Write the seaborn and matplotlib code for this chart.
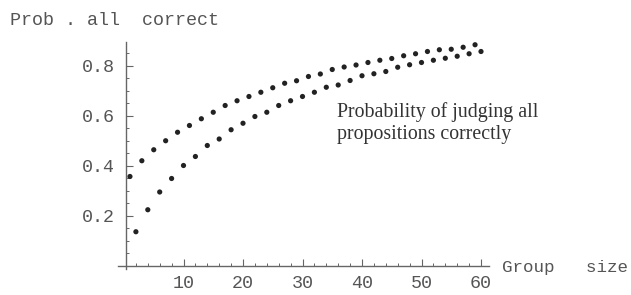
import numpy as np
import pandas as pd
import matplotlib
matplotlib.use("Agg")
import matplotlib.pyplot as plt
import seaborn as sns

# Data
odd_sizes = list(range(1, 60, 2))
odd_probs = [0.356, 0.419, 0.463, 0.499, 0.533, 0.560, 0.587, 0.613, 0.640, 0.659,
             0.676, 0.693, 0.711, 0.729, 0.739, 0.756, 0.766, 0.784, 0.794, 0.802,
             0.812, 0.821, 0.828, 0.839, 0.847, 0.856, 0.863, 0.865, 0.873, 0.883]
even_sizes = list(range(2, 61, 2))
even_probs = [0.135, 0.223, 0.294, 0.348, 0.400, 0.436, 0.480, 0.506, 0.543, 0.569,
              0.596, 0.613, 0.640, 0.659, 0.676, 0.693, 0.713, 0.722, 0.740, 0.759,
              0.767, 0.776, 0.793, 0.803, 0.812, 0.821, 0.829, 0.837, 0.847, 0.856]
x_ticks = [10, 20, 30, 40, 50, 60]
y_ticks = [0.2, 0.4, 0.6, 0.8]
x_label = "Group   size"
y_label = "Prob . all  correct"
note_lines = ["Probability of judging all", "propositions correctly"]

df = pd.DataFrame({
    "size": odd_sizes + even_sizes,
    "prob": odd_probs + even_probs,
    "series": ["odd"] * len(odd_sizes) + ["even"] * len(even_sizes),
})

sns.set_style("white")
mono = "Liberation Mono"
serif = "Liberation Serif"
axis_col = "#666666"
text_col = "#555555"

fig = plt.figure(figsize=(6.31, 2.95), dpi=100)
ax = fig.add_axes([0, 0, 1, 1])
sns.scatterplot(data=df, x="size", y="prob", hue="series",
                palette={"odd": "#222222", "even": "#222222"},
                s=14, edgecolor="none", legend=False, ax=ax)

# pixel mapping: x_px = 124 + 5.95*x ; y_px = 265.5 - 250*y
W, H = 631, 295
x0, sx = 124.0, 5.95
y0, sy = 265.5, 250.0
ax.set_xlim(-x0 / sx, (W - x0) / sx)
ax.set_ylim(-(H - y0) / sy, y0 / sy)
ax.patch.set_alpha(0)

for s in ["top", "right"]:
    ax.spines[s].set_visible(False)
ax.spines["left"].set_position(("data", 0.3))
ax.spines["bottom"].set_position(("data", 0.0))
ax.spines["left"].set_bounds(-0.012, 0.895)
ax.spines["bottom"].set_bounds(-1.0, 61.3)
for s in ["left", "bottom"]:
    ax.spines[s].set_color(axis_col)
    ax.spines[s].set_linewidth(1.0)

ax.set_xticks(x_ticks)
ax.set_xticks(np.arange(2, 61, 2), minor=True)
ax.set_yticks(y_ticks)
ax.set_yticks(np.arange(0.05, 0.9, 0.05), minor=True)
ax.set_xticklabels([str(v) for v in x_ticks])
ax.set_yticklabels([f"{v:.1f}" for v in y_ticks])
ax.tick_params(axis="both", which="both", bottom=True, left=True, top=False, right=False)
ax.tick_params(axis="both", which="major", direction="in", length=5, width=0.8,
               color=axis_col, labelcolor=text_col, labelsize=13.2)
ax.tick_params(axis="both", which="minor", direction="in", length=2.5, width=0.7,
               color=axis_col)
ax.tick_params(axis="x", which="major", pad=7)
ax.tick_params(axis="y", which="major", pad=8)
for lab in ax.get_xticklabels() + ax.get_yticklabels():
    lab.set_fontfamily(mono)
ax.set_xlabel("")
ax.set_ylabel("")

ax.text(10 / W, 1 - 25 / H, y_label, transform=ax.transAxes, family=mono,
        fontsize=13.2, color=text_col, ha="left", va="baseline")
ax.text(502 / W, 1 - 272 / H, x_label, transform=ax.transAxes, family=mono,
        fontsize=12.6, color=text_col, ha="left", va="baseline")
for i, line in enumerate(note_lines):
    ax.text(337 / W, 1 - (117 + 21.7 * i) / H, line, transform=ax.transAxes,
            family=serif, fontsize=14.3, color="#333333", ha="left", va="baseline")

fig.savefig("out.png", dpi=100)
